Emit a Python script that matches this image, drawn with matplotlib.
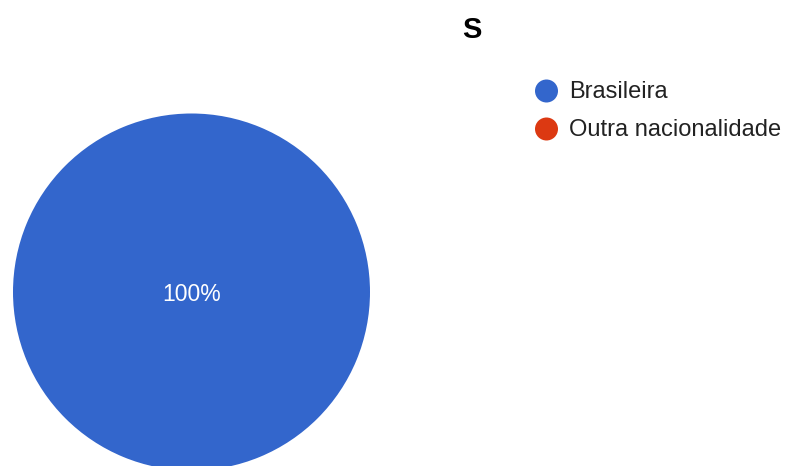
import matplotlib
matplotlib.use("Agg")
import matplotlib.pyplot as plt
from matplotlib.patches import Circle

plt.rcParams['font.family'] = ['Liberation Sans', 'DejaVu Sans']

title = "S"
categories = ["Brasileira", "Outra nacionalidade"]
values = [100, 0]
colors = ["#3366CC", "#DC3912"]

W, H = 788, 466
fig = plt.figure(figsize=(W / 100, H / 100), dpi=100)
ax = fig.add_axes([0, 0, 1, 1])


def pct_label(p):
    return f"{p:.0f}%" if p > 0.5 else ""


wedges, texts, autotexts = ax.pie(
    values, colors=colors, center=(191.5, 292), radius=178.5,
    startangle=90, counterclock=False, autopct=pct_label, pctdistance=0.0,
    textprops=dict(color='white', fontsize=16.5), frame=True,
    wedgeprops=dict(linewidth=0))
for t in autotexts:
    t.set_verticalalignment('center_baseline')
    t.set_fontweight('medium')

ax.set_xlim(0, W)
ax.set_ylim(H, 0)
ax.set_aspect('equal')
ax.axis('off')

ax.text(472, 27, title, fontsize=21, fontweight='bold', ha='center',
        va='center_baseline')

# legend entries
leg_x, leg_y0, leg_dy = 546.5, 91, 38
for i, (lab, col) in enumerate(zip(categories, colors)):
    y = leg_y0 + i * leg_dy
    ax.add_patch(Circle((leg_x, y), 11.5, color=col, lw=0))
    ax.text(569, y + 0.5, lab, fontsize=17, color='#222222', ha='left', va='center')

fig.savefig("out.png", dpi=100)
